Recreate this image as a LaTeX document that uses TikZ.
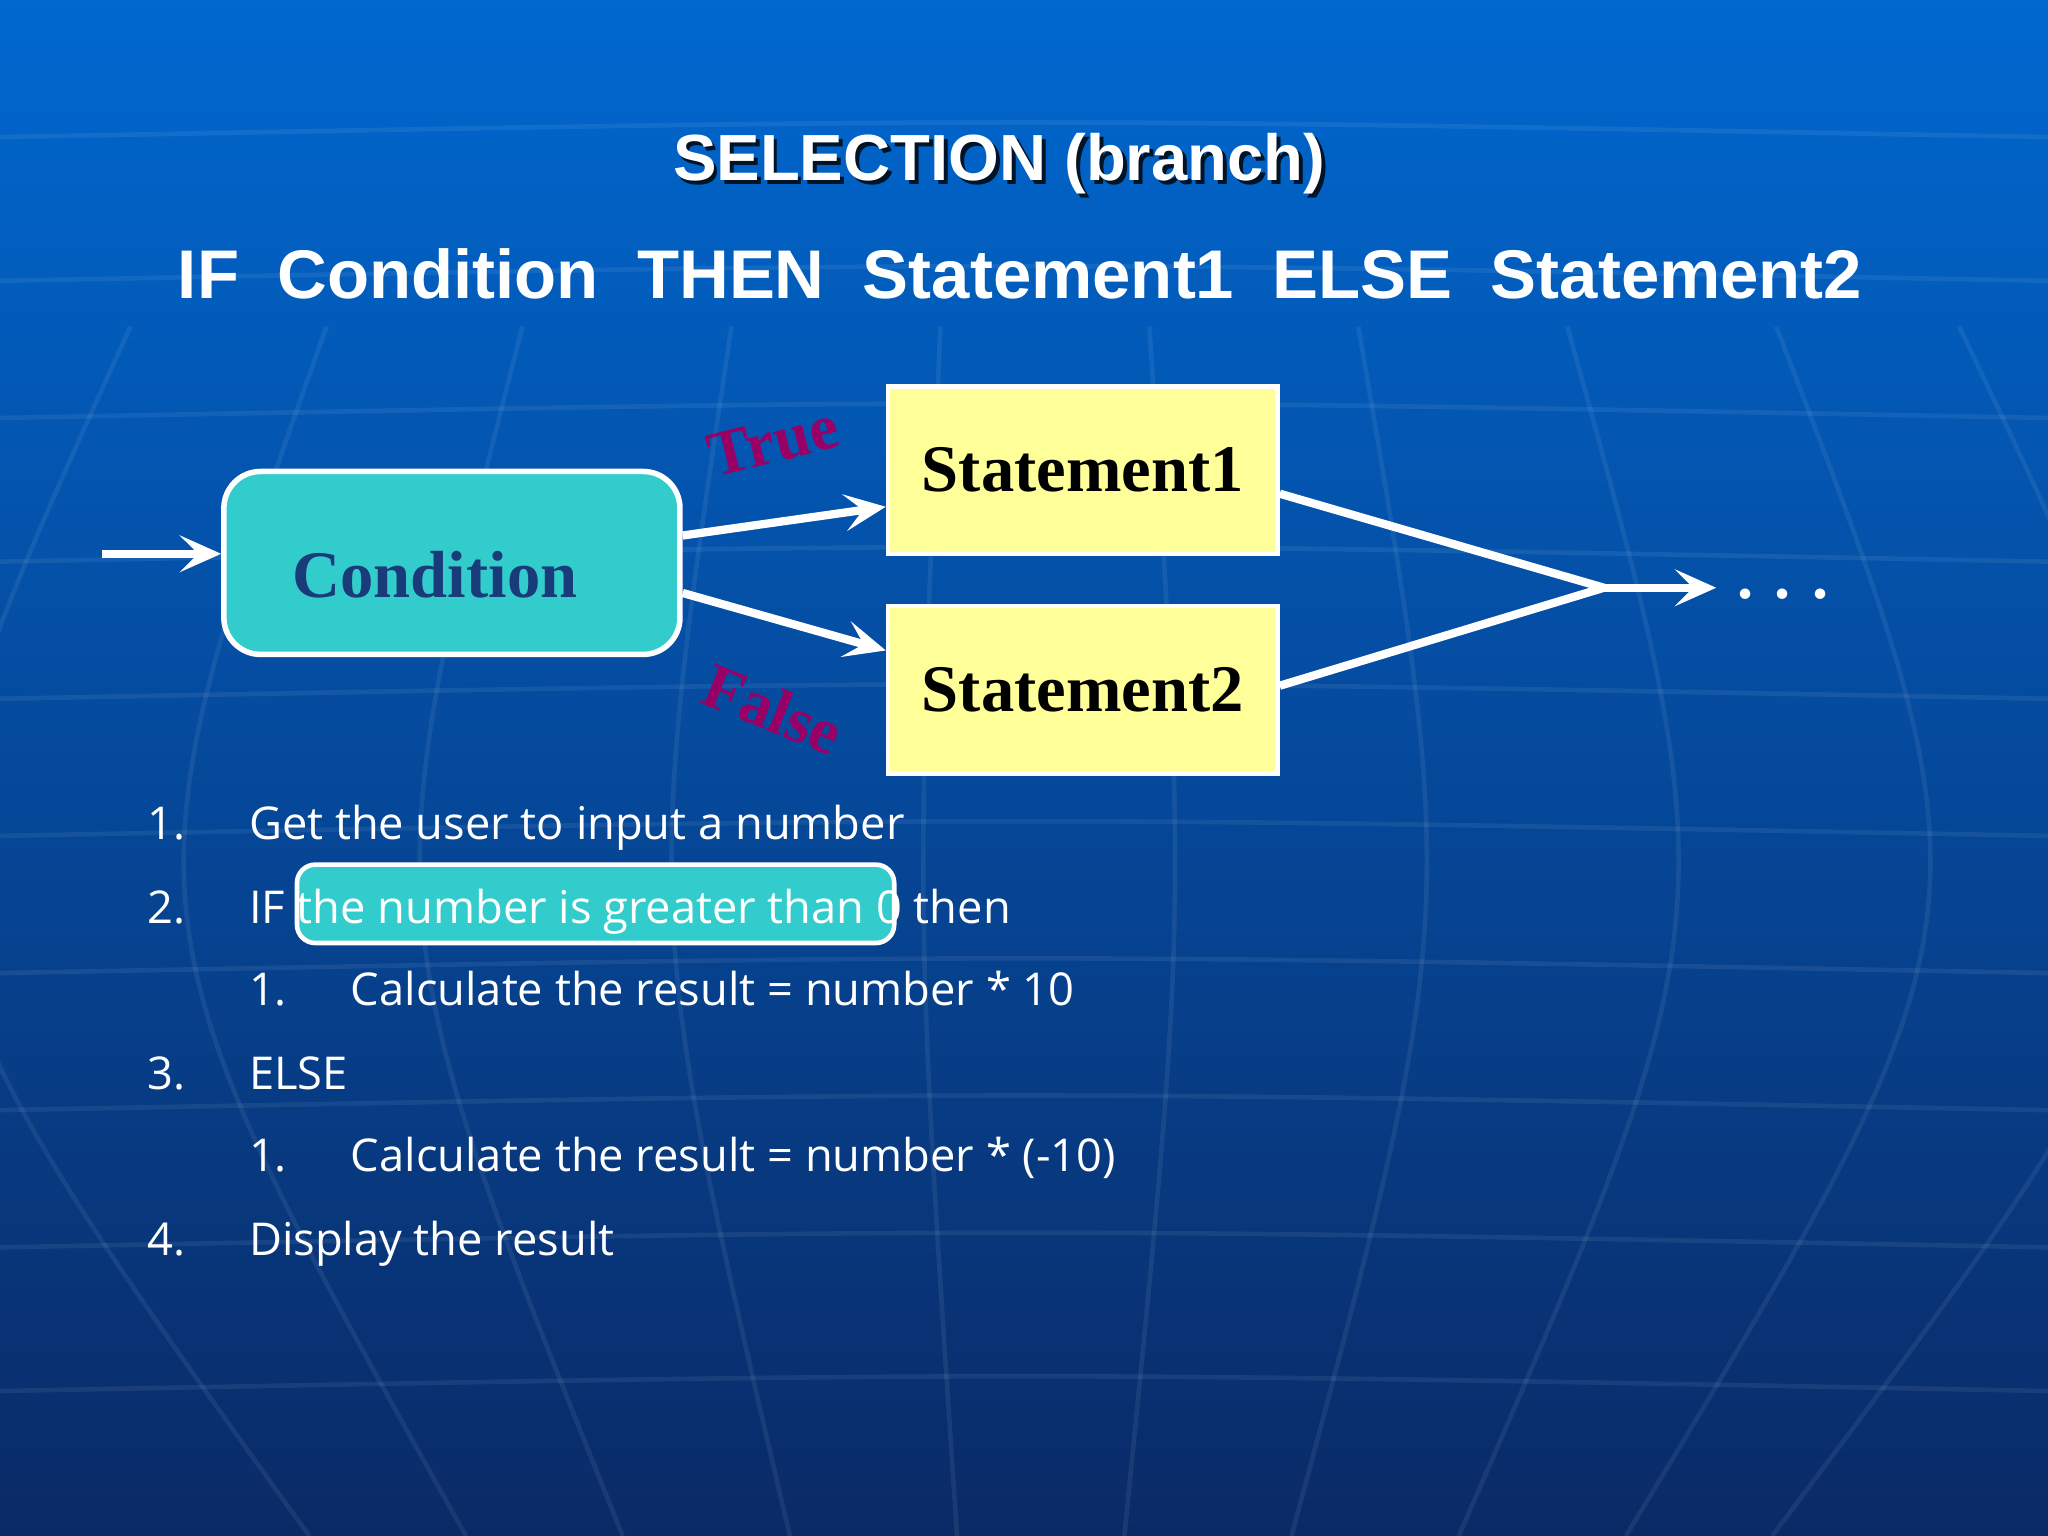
\documentclass[tikz,border=0pt]{standalone}
\usepackage{fontspec}
\setmainfont{Liberation Serif}
\setsansfont{Liberation Sans}
\newfontfamily\listfont{Open Sans}
\usetikzlibrary{shapes,calc,arrows.meta,shadows}
\definecolor{bgtop}{HTML}{0068D0}
\definecolor{bgbot}{HTML}{0A2A66}
\definecolor{teal}{HTML}{33CCCC}
\definecolor{pale}{HTML}{FFFF99}
\definecolor{plum}{HTML}{990066}
\definecolor{deepblue}{HTML}{183C7A}
\tikzset{
  wire/.style={white,line width=1.8pt},
  flow/.style={wire,-{Stealth[length=9pt,width=8pt,inset=4pt]}},
  condbox/.style={draw=white,line width=1.2pt,fill=teal,rounded corners=8pt,minimum width=3.49cm,minimum height=1.40cm},
  stmtbox/.style={draw=white,line width=1pt,fill=pale,minimum width=2.98cm,minimum height=1.28cm,font=\bfseries\fontsize{14.5}{16}\selectfont},
  slidetitle/.style={white,font=\sffamily\bfseries\fontsize{14.2}{16}\selectfont},
  titleshadow/.style={black,opacity=0.8,font=\sffamily\bfseries\fontsize{14.2}{16}\selectfont},
  item/.style={white,anchor=base west,inner sep=0pt,font=\listfont\fontsize{9.85}{11}\selectfont},
}
\begin{document}
\begin{tikzpicture}[x=0.01cm,y=-0.01cm]
  \useasboundingbox (0,0) rectangle (1568,1176);
  \shade[top color=bgtop,bottom color=bgbot] (0,0) rectangle (1568,1176);
  % faint grid of the backdrop
  \foreach \y in {105,215,320,430,535,640,745,850,955,1065}
    \draw[white,opacity=0.07,line width=1pt] (0,\y) .. controls (784,\y-15) .. (1568,\y);
  \foreach \x in {100,250,400,560,720,880,1040,1200,1360,1500}
    \draw[white,opacity=0.07,line width=1pt] (\x,250) .. controls ({784+(\x-784)*1.3},700) .. ({784+(\x-784)*0.8},1176);
  % titles
  \node[titleshadow] at (768,128) {SELECTION (branch)};
  \node[slidetitle] (title) at (765,125) {SELECTION (branch)};
  \node[slidetitle,font=\sffamily\bfseries\fontsize{15}{17}\selectfont] (syntax) at (781,210) {IF\ \ Condition\ \ THEN\ \ Statement1\ \ ELSE\ \ Statement2};
  % flow chart
  \node[condbox] (cond) at (346,431) {};
  \node[text=deepblue,font=\bfseries\fontsize{14.5}{16}\selectfont] (condtext) at (333,440) {Condition};
  \node[stmtbox] (s1) at (829,360) {Statement1};
  \node[stmtbox] (s2) at (829,528) {Statement2};
  \coordinate (in) at (78,424);
  \coordinate (join) at (1228,450);
  \coordinate (out) at (1314,450);
  \draw[flow] (in) -- (cond.west |- in);
  \draw[flow] (cond.east |- 0,410) -- (s1.west |- 0,388);
  \draw[flow] (cond.east |- 0,454) -- (s2.west |- 0,498);
  \draw[wire] (s1.east |- 0,378) -- (join) -- (s2.east |- 0,525);
  \draw[flow] (join) -- (out);
  \node[white,font=\bfseries\fontsize{14}{16}\selectfont] (dots) at (1365,455) {. . .};
  \node[plum,rotate=14,font=\bfseries\fontsize{14}{16}\selectfont] (true) at (592,338) {True};
  \node[plum,rotate=-22,font=\bfseries\fontsize{14}{16}\selectfont] (false) at (592,543) {False};
  % algorithm
  \node[draw=white,line width=1pt,fill=teal,rounded corners=4pt,minimum width=4.57cm,minimum height=0.60cm] (mark) at (456,692) {};
  \node[item] (n1) at (112,643) {1.};
  \node[item] (t1) at (190,643) {Get the user to input a number};
  \node[item] (n2) at (112,707) {2.};
  \node[item] (t2) at (190,707) {IF the number is greater than 0 then};
  \node[item] (n21) at (190,770) {1.};
  \node[item] (t21) at (268,770) {Calculate the result = number * 10};
  \node[item] (n3) at (112,834) {3.};
  \node[item] (t3) at (190,834) {ELSE};
  \node[item] (n31) at (190,897) {1.};
  \node[item] (t31) at (268,897) {Calculate the result = number * (-10)};
  \node[item] (n4) at (112,961) {4.};
  \node[item] (t4) at (190,961) {Display the result};
\end{tikzpicture}
\end{document}
